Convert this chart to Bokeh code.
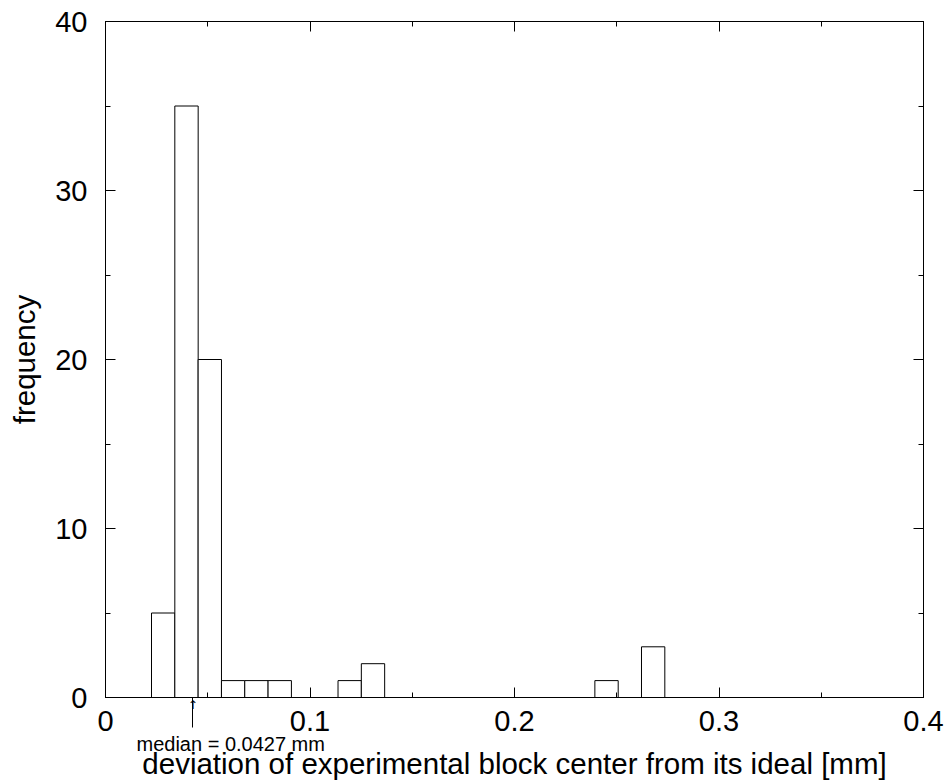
from bokeh.plotting import figure
from bokeh.models import (Range1d, LinearAxis, SingleIntervalTicker, FixedTicker,
                          CustomJSTickFormatter, ColumnDataSource, Title)
from bokeh.embed import file_html
from bokeh.resources import INLINE

# histogram data (bin left edges and counts)
bin_left = [0.0225, 0.0339, 0.0453, 0.0567, 0.0681, 0.0795, 0.1137, 0.1251, 0.2393, 0.2621]
counts = [5, 35, 20, 1, 1, 1, 1, 2, 1, 3]
bin_width = 0.01141
median = 0.0427
median_text = "median = 0.0427 mm"
x_label = "deviation of experimental block center from its ideal [mm]"
y_label = "frequency"

FONT = "Liberation Sans"

src = ColumnDataSource(dict(
    left=bin_left,
    right=[b + bin_width for b in bin_left],
    top=counts,
    bottom=[0] * len(counts),
))

p = figure(frame_width=818, frame_height=676, output_backend="svg", toolbar_location=None,
           x_range=Range1d(0, 0.4), y_range=Range1d(0, 40),
           min_border_left=105, min_border_top=21, min_border_right=24, min_border_bottom=83,
           x_axis_type=None, y_axis_type=None)
p.background_fill_color = "white"
p.border_fill_color = "white"
p.outline_line_color = "black"
p.outline_line_width = 1
p.grid.visible = False

p.quad(left="left", right="right", top="top", bottom="bottom", source=src,
       fill_color="white", line_color="black", line_width=1)

fmt = CustomJSTickFormatter(code="return String(Number(tick.toFixed(3)));")
blank = CustomJSTickFormatter(code="return '';")


def style(ax, labels=True):
    ax.axis_line_color = "black"
    ax.major_tick_line_color = "black"
    ax.minor_tick_line_color = "black"
    ax.major_tick_in = 10
    ax.major_tick_out = 0
    ax.minor_tick_in = 5
    ax.minor_tick_out = 0
    if labels:
        ax.major_label_text_font = FONT
        ax.major_label_text_font_size = "29px"
        ax.major_label_text_color = "black"
        ax.axis_label_text_font = FONT
        ax.axis_label_text_font_size = "29.5px"
        ax.axis_label_text_font_style = "normal"
        ax.axis_label_text_color = "black"
    else:
        ax.formatter = blank
        ax.major_label_text_font_size = "0px"
        ax.major_label_text_color = None
        ax.major_label_standoff = 0


# bottom ticks (inside the frame), no labels
xa = LinearAxis(ticker=SingleIntervalTicker(interval=0.1, num_minor_ticks=2))
style(xa, labels=False)
p.add_layout(xa, "below")

# median marker: a downward tick with an arrow head
xm = LinearAxis(ticker=FixedTicker(ticks=[median], minor_ticks=[]),
                formatter=CustomJSTickFormatter(code="return '\u2191';"))
xm.axis_line_color = None
xm.major_tick_line_color = "black"
xm.major_tick_in = 0
xm.major_tick_out = 30
xm.major_label_standoff = -30
xm.major_label_text_font = "DejaVu Sans"
xm.major_label_text_font_size = "12px"
xm.major_label_text_color = "black"
p.add_layout(xm, "below")

# tick labels
xb = LinearAxis(ticker=SingleIntervalTicker(interval=0.1, num_minor_ticks=2), formatter=fmt)
style(xb)
xb.axis_line_color = None
xb.major_tick_in = 0
xb.minor_tick_in = 0
xb.major_label_standoff = -4
p.add_layout(xb, "below")

p.add_layout(Title(text=median_text, align="left", offset=31, standoff=-5,
                   text_font=FONT, text_font_size="20px", text_font_style="normal",
                   text_color="black"), "below")
p.add_layout(Title(text=x_label, align="center", standoff=-15,
                   text_font=FONT, text_font_size="29.5px", text_font_style="normal",
                   text_color="black"), "below")

xt = LinearAxis(ticker=SingleIntervalTicker(interval=0.1, num_minor_ticks=2))
style(xt, labels=False)
p.add_layout(xt, "above")

yl = LinearAxis(ticker=SingleIntervalTicker(interval=10, num_minor_ticks=2), formatter=fmt,
                axis_label=y_label)
style(yl)
yl.major_label_standoff = 18
yl.axis_label_standoff = 11
p.add_layout(yl, "left")

yr = LinearAxis(ticker=SingleIntervalTicker(interval=10, num_minor_ticks=2))
style(yr, labels=False)
p.add_layout(yr, "right")

open("out.html", "w").write(file_html(p, INLINE))
